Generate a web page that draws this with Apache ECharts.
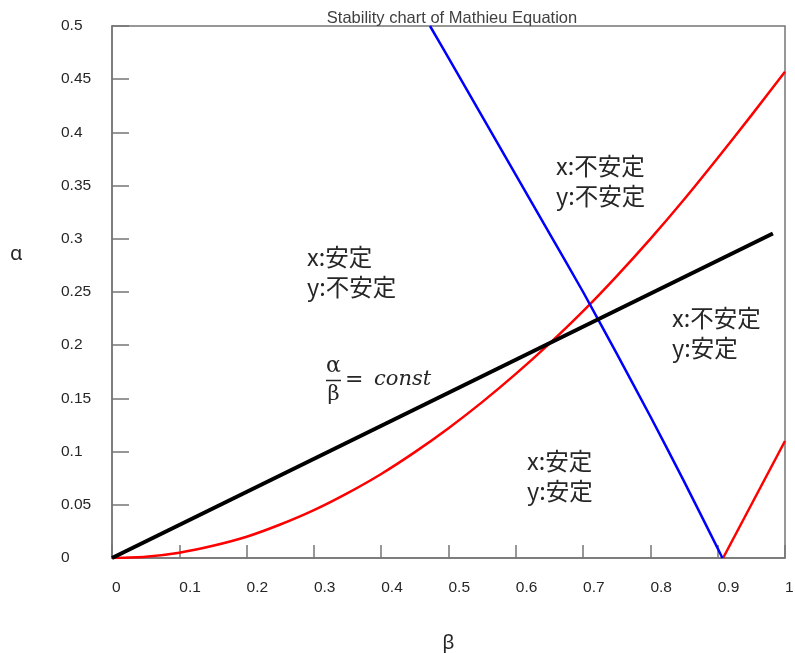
<!DOCTYPE html>
<html>
<head>
<meta charset="utf-8">
<script src="https://cdn.jsdelivr.net/npm/echarts@6/dist/echarts.min.js"></script>
<style>
  html, body { margin: 0; padding: 0; background: #fff; }
  #chart { width: 795px; height: 653px; }
</style>
</head>
<body>
<div id="chart"></div>
<script>
// Stability boundaries of the Mathieu equation in the (β, α) plane
const betaTicks = [0, 0.1, 0.2, 0.3, 0.4, 0.5, 0.6, 0.7, 0.8, 0.9, 1];
const alphaTicks = [0, 0.05, 0.1, 0.15, 0.2, 0.25, 0.3, 0.35, 0.4, 0.45, 0.5];

// lower red boundary (x direction)
const redBeta  = [0, 0.05, 0.1, 0.15, 0.2, 0.25, 0.3, 0.35, 0.4, 0.45, 0.5, 0.55, 0.6, 0.65, 0.7, 0.75, 0.8, 0.85, 0.9, 0.95, 1];
const redAlpha = [0, 0.0012, 0.005, 0.0115, 0.020, 0.0315, 0.045, 0.061, 0.079, 0.0995, 0.122, 0.1465, 0.173, 0.2015, 0.232, 0.265, 0.300, 0.337, 0.376, 0.416, 0.457];

// second red branch near β = 1
const red2Beta  = [0.908, 1];
const red2Alpha = [0, 0.11];

// blue boundary (y direction)
const blueBeta  = [0.4725, 0.5, 0.55, 0.6, 0.65, 0.7, 0.75, 0.8, 0.85, 0.9, 0.907];
const blueAlpha = [0.5, 0.470, 0.415, 0.360, 0.305, 0.250, 0.192, 0.133, 0.072, 0.009, 0];

// operating line α/β = const
const lineBeta  = [0, 0.982];
const lineAlpha = [0, 0.305];

const zip = (a, b) => a.map((v, i) => [v, b[i]]);
const fmt = v => String(+v.toFixed(2));

const chart = echarts.init(document.getElementById('chart'));
const axisGrey = '#767676';
const textDark = '#262626';
const cjk = '"Noto Sans CJK JP", "Noto Sans", sans-serif';

chart.setOption({
  animation: false,
  backgroundColor: '#fff',
  title: {
    text: 'Stability chart of Mathieu Equation',
    left: 447, top: 5, textAlign: 'center',
    textStyle: { fontFamily: 'Liberation Sans, Arial, sans-serif', fontSize: 16.5, fontWeight: 'normal', color: '#404040' }
  },
  grid: {
    left: 112, right: 10, top: 26, bottom: 95,
    outerBoundsMode: 'none', containLabel: false,
    show: true, borderColor: axisGrey, borderWidth: 1.5, backgroundColor: 'transparent'
  },
  xAxis: {
    type: 'value', min: 0, max: 1, interval: 0.1,
    name: 'β', nameLocation: 'middle', nameGap: 75,
    nameTextStyle: { fontFamily: 'Noto Sans, sans-serif', fontSize: 20, color: textDark },
    axisLine: { show: true, lineStyle: { color: axisGrey, width: 1.5 } },
    axisTick: { show: true, inside: true, length: 13, lineStyle: { color: axisGrey, width: 1.5 } },
    splitLine: { show: false },
    axisLabel: {
      margin: 22, align: 'left', verticalAlign: 'top',
      fontFamily: 'Liberation Sans, Arial, sans-serif', fontSize: 15.5, color: textDark,
      formatter: v => betaTicks.some(t => Math.abs(t - v) < 1e-9) ? fmt(v) : ''
    }
  },
  yAxis: {
    type: 'value', min: 0, max: 0.5, interval: 0.05,
    axisLine: { show: true, lineStyle: { color: axisGrey, width: 1.5 } },
    axisTick: { show: true, inside: true, length: 17, lineStyle: { color: axisGrey, width: 1.5 } },
    splitLine: { show: false },
    axisLabel: {
      margin: 51, align: 'left',
      fontFamily: 'Liberation Sans, Arial, sans-serif', fontSize: 15.5, color: textDark,
      formatter: v => alphaTicks.some(t => Math.abs(t - v) < 1e-9) ? fmt(v) : ''
    }
  },
  series: [
    { type: 'line', data: zip(redBeta, redAlpha), showSymbol: false, smooth: 0.2,
      lineStyle: { color: '#ff0000', width: 2.5 }, z: 2 },
    { type: 'line', data: zip(red2Beta, red2Alpha), showSymbol: false,
      lineStyle: { color: '#ff0000', width: 2.5 }, z: 2 },
    { type: 'line', data: zip(blueBeta, blueAlpha), showSymbol: false, smooth: 0.2,
      lineStyle: { color: '#0000ff', width: 2.5 }, z: 3 },
    { type: 'line', data: zip(lineBeta, lineAlpha), showSymbol: false,
      lineStyle: { color: '#000000', width: 4 }, z: 4 }
  ],
  graphic: [
    // axis name α
    { type: 'text', left: 10, top: 244,
      style: { text: 'α', font: '20px "Noto Sans", sans-serif', fill: textDark } },
    // region labels
    { type: 'text', left: 307, top: 242,
      style: { text: 'x:安定\ny:不安定', font: '23.5px ' + cjk, lineHeight: 30, fill: textDark } },
    { type: 'text', left: 556, top: 151,
      style: { text: 'x:不安定\ny:不安定', font: '23.5px ' + cjk, lineHeight: 30, fill: textDark } },
    { type: 'text', left: 672, top: 303,
      style: { text: 'x:不安定\ny:安定', font: '23.5px ' + cjk, lineHeight: 30, fill: textDark } },
    { type: 'text', left: 527, top: 446,
      style: { text: 'x:安定\ny:安定', font: '23.5px ' + cjk, lineHeight: 30, fill: textDark } },
    // α/β = const
    { type: 'text', x: 333.5, y: 366, style: { text: 'α', font: '22px "DejaVu Serif", serif', fill: textDark, align: 'center', verticalAlign: 'middle' } },
    { type: 'line', shape: { x1: 326, y1: 380.5, x2: 341, y2: 380.5 }, style: { stroke: textDark, lineWidth: 1.5 } },
    { type: 'text', x: 333.5, y: 395, style: { text: 'β', font: '21px "DejaVu Serif", serif', fill: textDark, align: 'center', verticalAlign: 'middle' } },
    { type: 'text', x: 345, y: 380, style: { text: '=', font: '22px "DejaVu Serif", serif', fill: textDark, verticalAlign: 'middle' } },
    { type: 'text', x: 374, y: 380, style: { text: 'const', font: 'italic 21px "DejaVu Serif", serif', fill: textDark, verticalAlign: 'middle' } }
  ]
});
</script>
</body>
</html>
